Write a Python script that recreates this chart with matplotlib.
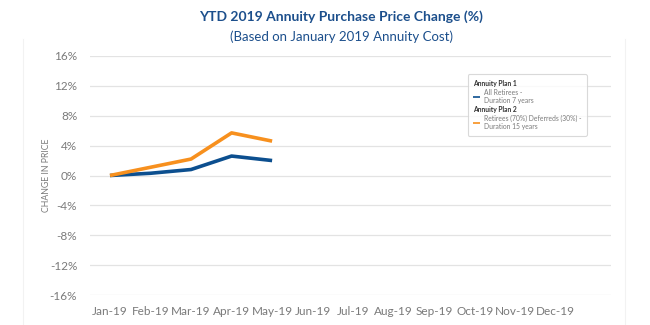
import matplotlib
matplotlib.use("Agg")
import matplotlib.pyplot as plt
from matplotlib.lines import Line2D

plt.rcParams['font.family'] = ['Lato', 'DejaVu Sans']

months = ['Jan-19', 'Feb-19', 'Mar-19', 'Apr-19', 'May-19', 'Jun-19',
          'Jul-19', 'Aug-19', 'Sep-19', 'Oct-19', 'Nov-19', 'Dec-19']
plan1 = [0.0, 0.3, 0.8, 2.6, 2.0]   # All Retirees - Duration 7 years
plan2 = [0.0, 1.1, 2.2, 5.7, 4.6]   # Retirees (70%) Deferreds (30%) - Duration 15 years
yticks = [-16, -12, -8, -4, 0, 4, 8, 12, 16]

blue = '#0c4f8f'
orange = '#f7901e'
gray = '#7a7a7a'

fig = plt.figure(figsize=(6.5, 3.25), dpi=100)
ax = fig.add_axes([0.138, 0.092, 0.802, 0.736])

# faint outer frame lines
fig.add_artist(Line2D([0.035, 0.035], [0, 0.88], transform=fig.transFigure, color='#f2f2f2', lw=0.8))
fig.add_artist(Line2D([0.962, 0.962], [0, 0.88], transform=fig.transFigure, color='#f2f2f2', lw=0.8))

x = list(range(len(months)))
l1, = ax.plot(x[:len(plan1)], plan1, color=blue, lw=2.6, solid_capstyle='butt')
l2, = ax.plot(x[:len(plan2)], plan2, color=orange, lw=2.6, solid_capstyle='butt')

ax.set_ylim(-16, 16)
ax.set_xlim(-0.5, 12.36)
ax.set_yticks(yticks)
ax.set_yticklabels([f'{v}%' for v in yticks])
ax.set_xticks(x)
ax.set_xticklabels(months)
ax.tick_params(axis='both', length=0, colors=gray, labelsize=8.5)
ax.tick_params(axis='y', pad=9)
ax.tick_params(axis='x', pad=8)
ax.grid(axis='y', color='#e3e3e3', lw=0.9)
ax.set_axisbelow(True)
for s in ax.spines.values():
    s.set_visible(False)
ax.set_ylabel('CHANGE IN PRICE', color=gray, fontsize=6.3, labelpad=-1)

fig.text(0.525, 0.935, 'YTD 2019 Annuity Purchase Price Change (%)', ha='center',
         color='#1c4f8c', fontsize=10, fontweight='bold')
fig.text(0.525, 0.875, '(Based on January 2019 Annuity Cost)', ha='center',
         color='#1c4f8c', fontsize=9.5)

blank = Line2D([], [], alpha=0)
leg = ax.legend([blank, l1, blank, l2],
                ['Annuity Plan 1', 'All Retirees -\nDuration 7 years',
                 'Annuity Plan 2', 'Retirees (70%) Deferreds (30%) -\nDuration 15 years'],
                loc='upper left', bbox_to_anchor=(0.714, 0.782), bbox_transform=fig.transFigure,
                fontsize=4.9, handlelength=1.1, handletextpad=0.5, labelspacing=0.3,
                borderpad=0.8, frameon=True, fancybox=True)
leg.get_frame().set_edgecolor('#d0d0d0')
leg.get_frame().set_linewidth(0.8)
for line in leg.get_lines():
    line.set_linewidth(1.2)
texts = leg.get_texts()
for i, t in enumerate(texts):
    if i in (0, 2):
        t.set_color('#333333')
        t.set_fontweight('bold')
    else:
        t.set_color(gray)
# pull the plan titles back over the handle column
for col in leg._legend_handle_box.get_children():
    for row in col.get_children():
        kids = row.get_children()
        if kids[1].get_children()[0].get_text().startswith('Annuity Plan'):
            kids[0].width = 0
            row.sep = 0

fig.savefig('out.png', dpi=100)
